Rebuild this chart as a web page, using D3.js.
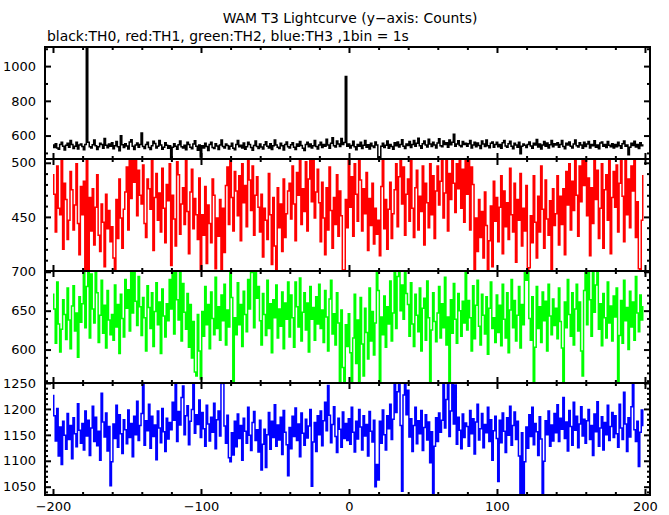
<!DOCTYPE html>
<html><head><meta charset="utf-8">
<script src="https://cdn.jsdelivr.net/npm/d3@7/dist/d3.min.js"></script>
<style>body{margin:0;background:#fff}svg{display:block}text{font-family:"DejaVu Sans",Verdana,sans-serif}</style>
</head><body><svg id="c" width="669" height="515"></svg>
<script>
// ---------------- data ----------------
const title = "WAM T3 Lightcurve (y\u2212axis: Counts)";
const subtitle = "black:TH0, red:TH1, green:TH2, blue:TH3 ,1bin = 1s";
const startTime = -200;   // s, first bin
const binSize = 1;        // s
const xTickLabels = [-200, -100, 0, 100, 200];

const th0 = [
546,531,553,528,521,549,562,538,517,544,556,533,571,548,526,539,561,523,545,552,
537,518,549,1160,562,536,529,547,574,541,520,535,556,548,527,583,544,530,551,539,
558,524,541,566,535,512,599,547,531,553,540,522,563,576,538,519,546,557,533,549,
615,537,526,548,561,531,519,542,567,554,528,539,572,546,521,533,558,544,527,541,
466,532,553,539,521,547,568,536,529,544,518,561,549,533,524,552,570,538,516,545,
476,541,529,556,537,514,548,562,531,525,553,540,519,546,575,537,528,551,543,522,
539,556,527,518,548,571,536,544,529,557,521,535,562,549,531,516,543,568,537,526,
551,534,522,547,565,539,528,553,519,541,574,546,532,525,556,542,517,549,563,536,
528,547,559,533,520,551,538,566,543,527,514,548,561,535,552,529,541,572,537,523,
545,562,531,549,538,579,546,527,556,588,541,534,569,551,537,583,548,560,940,539,
552,529,543,567,535,518,549,538,561,526,544,571,533,547,522,556,540,531,563,545,
470,472,538,556,531,544,569,527,549,537,521,558,542,563,534,548,576,539,526,551,
543,566,531,549,572,538,556,585,541,527,553,568,546,534,579,551,537,562,545,529,
557,581,542,536,568,549,559,533,574,547,561,608,539,552,570,543,535,566,548,556,
538,553,571,529,546,562,535,557,543,526,568,551,537,574,542,530,555,563,533,548,
561,536,549,527,558,571,540,532,553,567,538,524,556,545,532,561,495,539,552,544,
531,548,563,540,527,555,546,578,534,551,523,545,566,538,557,529,547,571,536,553,
546,559,532,548,571,537,524,556,545,563,538,529,552,575,541,534,558,545,527,561,
537,552,566,528,549,541,570,533,546,524,557,563,539,548,531,566,544,535,553,528,
549,535,561,542,527,553,568,538,546,490,532,556,543,567,534,548,525,559,541,546];

const th1 = [
489,471,436,497,458,452,503,420,481,466,429,447,492,475,438,461,499,444,415,478,
452,483,399,507,401,468,437,476,424,459,489,433,418,462,445,404,471,439,456,427,
441,412,398,466,430,485,449,421,457,473,496,438,504,467,506,482,510,451,493,470,
462,498,444,431,485,476,457,503,419,468,490,447,472,436,495,458,426,480,465,499,
405,470,448,423,501,489,434,462,477,443,508,455,416,473,494,439,467,452,429,486,
401,452,433,478,407,461,444,426,485,470,402,449,432,466,400,458,417,479,496,443,
505,468,437,492,474,451,488,428,499,463,479,441,508,484,456,497,433,470,487,459,
436,471,413,458,447,429,490,452,406,468,423,399,477,440,462,418,485,431,453,474,
481,448,497,462,428,491,470,507,443,476,455,501,437,485,502,464,509,449,473,494,
463,427,482,449,415,477,438,496,456,421,468,443,489,432,474,451,398,401,466,440,
506,459,487,432,499,471,446,508,484,437,476,453,491,419,467,442,481,425,458,434,
447,414,478,504,439,466,420,457,482,430,453,475,499,441,487,509,462,496,433,471,
485,446,502,458,431,477,493,438,469,455,497,424,481,463,440,499,452,488,430,474,
497,461,483,505,449,472,503,437,490,466,508,481,454,499,476,510,458,494,445,502,
471,507,438,496,480,401,449,418,466,431,455,412,473,442,397,428,460,404,483,446,
468,427,459,488,416,474,441,463,429,495,452,436,481,408,466,447,490,423,458,437,
479,398,403,451,426,488,445,412,469,436,497,457,421,484,448,433,465,399,476,442,
453,488,424,469,443,476,415,492,461,499,438,483,456,505,470,432,497,464,506,479,
508,451,486,414,477,444,509,466,493,430,458,499,421,475,489,447,503,416,468,492,
459,498,436,481,503,469,427,509,452,485,440,497,474,506,431,464,402,398,447,488];

const th2 = [
671,652,608,687,633,597,626,664,645,613,679,638,601,656,682,624,647,590,668,635,
659,702,628,681,701,615,697,652,634,703,673,609,644,689,621,657,602,676,638,619,
645,612,683,629,658,595,671,640,616,690,653,677,624,703,647,701,662,631,694,655,
618,667,641,598,682,654,627,673,604,649,686,632,661,595,678,643,616,659,637,690,
652,703,620,699,664,638,702,611,685,648,626,672,603,658,589,636,571,566,645,598,
562,649,617,681,632,658,601,674,640,619,693,627,655,612,670,637,684,606,651,629,
703,667,556,641,619,686,632,658,604,675,645,623,690,652,699,703,628,701,666,681,
637,606,672,645,618,689,627,659,596,664,641,683,615,652,630,674,601,660,639,687,
616,670,641,603,687,655,629,692,611,648,673,625,660,597,681,639,654,612,668,633,
684,627,651,609,676,642,598,665,689,620,646,606,673,634,559,651,577,556,632,604,
646,596,556,615,671,582,638,559,667,607,566,653,622,588,679,611,649,593,634,701,
676,558,642,619,669,603,655,633,688,611,647,703,627,694,701,650,683,639,701,672,
658,617,686,633,604,671,644,623,679,598,653,666,612,688,641,557,625,673,636,610,
647,681,615,659,628,693,606,642,559,664,621,685,639,608,672,650,617,662,634,699,
625,663,641,598,682,614,657,689,630,606,671,644,620,668,594,653,687,627,641,609,
670,622,657,605,684,639,615,673,596,651,690,628,663,611,644,681,602,658,632,703,
689,703,640,612,668,557,603,681,627,655,609,674,637,662,598,684,643,619,665,631,
653,614,679,636,602,558,661,628,690,645,617,673,606,652,684,624,661,598,566,676,
701,632,703,664,617,700,648,683,703,626,659,605,672,641,615,687,634,656,611,669,
642,679,557,618,663,608,689,637,654,600,675,629,661,612,694,647,623,670,638,655];

const th3 = [
1226,1187,1138,1201,1109,1165,1093,1176,1149,1122,1191,1141,1168,1104,1183,1152,1127,1210,1159,1134,
1172,1121,1196,1148,1178,1110,1163,1205,1137,1184,1129,1157,1101,1230,1175,1146,1192,1119,1166,1052,
1098,1171,1143,1207,1126,1189,1152,1114,1179,1160,1133,1198,1145,1172,1108,1186,1150,1215,1139,1168,
1191,1252,1130,1177,1158,1209,1124,1186,1147,1169,1102,1196,1163,1135,1201,1156,1118,1182,1142,1174,
1160,1213,1178,1251,1137,1195,1169,1222,1244,1150,1187,1206,1131,1176,1199,1250,1153,1189,1170,1217,
1145,1193,1162,1128,1207,1171,1138,1184,1155,1211,1123,1179,1196,1148,1249,1252,1167,1134,1188,1106,
1098,1154,1111,1176,1127,1190,1143,1168,1101,1182,1157,1134,1203,1149,1120,1174,1195,1139,1160,1117,
1178,1082,1132,1161,1087,1150,1193,1122,1176,1145,1208,1128,1169,1140,1184,1112,1197,1155,1131,1071,
1164,1123,1186,1147,1202,1139,1171,1108,1192,1153,1130,1180,1144,1167,1199,1051,1136,1174,1118,1187,
1150,1196,1129,1177,1213,1158,1245,1188,1135,1170,1204,1147,1116,1182,1161,1126,1194,1143,1172,1139,
1181,1132,1203,1155,1117,1176,1142,1199,1165,1121,1187,1148,1170,1109,1195,1157,1136,1178,1050,1093,
1063,1176,1134,1198,1150,1121,1187,1162,1209,1141,1180,1250,1193,1233,1251,1168,1041,1227,1252,1189,
1236,1146,1181,1118,1168,1203,1133,1177,1152,1197,1120,1164,1189,1140,1175,1096,1156,1034,1128,1183,
1137,1192,1155,1178,1251,1163,1218,1249,1147,1196,1250,1171,1246,1132,1184,1159,1123,1190,1145,1173,
1166,1128,1197,1152,1181,1113,1175,1209,1140,1162,1191,1125,1170,1154,1203,1137,1179,1101,1158,1186,
1143,1060,1178,1135,1192,1157,1116,1183,1149,1205,1130,1168,1194,1141,1176,1109,1034,1154,1031,1098,
1165,1124,1189,1147,1203,1131,1172,1156,1110,1185,1142,1033,1099,1177,1150,1196,1128,1169,1138,1191,
1154,1208,1137,1182,1161,1222,1143,1175,1119,1197,1166,1130,1213,1159,1186,1125,1171,1204,1148,1180,
1134,1177,1199,1141,1168,1110,1190,1156,1214,1128,1163,1185,1121,1174,1150,1207,1139,1166,1193,1145,
1187,1152,1126,1209,1163,1141,1232,1171,1118,1183,1146,1204,1250,1160,1137,1176,1089,1155,1198,1168];

// y ranges, labelled ticks and minor tick step for each panel
const th0Range = [465, 1110], th0Labels = [600, 800, 1000], th0Minor = 100;
const th1Range = [400, 503.5], th1Labels = [450, 500], th1Minor = 10;
const th2Range = [557, 701], th2Labels = [600, 650, 700], th2Minor = 10;
const th3Range = [1034, 1250], th3Labels = [1050, 1100, 1150, 1200, 1250], th3Minor = 10;
const th1Major = [400, 450, 500];

// ---------------- layout ----------------
const W = 669, H = 515;
const L = 45, R = 650;
const panelTop = [47, 159, 271, 383], panelH = 112;
const colors = ["#000000", "#ff0000", "#00ff00", "#0000ff"];

const panels = [
  {data: th0, range: th0Range, labels: th0Labels, major: th0Labels, minor: th0Minor},
  {data: th1, range: th1Range, labels: th1Labels, major: th1Major, minor: th1Minor},
  {data: th2, range: th2Range, labels: th2Labels, major: th2Labels, minor: th2Minor},
  {data: th3, range: th3Range, labels: th3Labels, major: th3Labels, minor: th3Minor}
];

const svg = d3.select("#c");
svg.append("rect").attr("width", W).attr("height", H).attr("fill", "#fff");

const x = d3.scaleLinear().domain([-205.4, 203.4]).range([L, R]);
const xMinor = d3.range(-200, 201, 20);

svg.append("text").attr("x", 350).attr("y", 23).attr("text-anchor", "middle")
  .attr("font-size", 13.9).text(title);
svg.append("text").attr("x", 47).attr("y", 41).attr("font-size", 13.9).text(subtitle);

const defs = svg.append("defs");

panels.forEach((p, i) => {
  const top = panelTop[i], bot = top + panelH;
  const y = d3.scaleLinear().domain(p.range).range([bot, top]);
  const g = svg.append("g");
  defs.append("clipPath").attr("id", "clip" + i)
    .append("rect").attr("x", L).attr("y", top).attr("width", R - L).attr("height", panelH);

  const line = d3.line()
    .x((d, k) => x(startTime + k * binSize))
    .y(d => y(d))
    .curve(d3.curveStep);
  g.append("path").datum(p.data)
    .attr("clip-path", "url(#clip" + i + ")")
    .attr("fill", "none").attr("stroke", colors[i]).attr("stroke-width", 1.5)
    .attr("d", line);

  const minorVals = d3.range(Math.ceil(p.range[0] / p.minor) * p.minor, p.range[1] + 0.01, p.minor)
    .filter(v => !p.major.includes(v));
  const majorVals = p.major.filter(v => v >= p.range[0] && v <= p.range[1]);

  // y axes (left with labels, right mirrored), ticks pointing inward
  svg.append("g").attr("transform", `translate(${L},0)`)
    .call(d3.axisLeft(y).tickValues(minorVals).tickSize(-3).tickFormat(""));
  svg.append("g").attr("transform", `translate(${L},0)`)
    .call(d3.axisLeft(y).tickValues(majorVals).tickSize(-6).tickPadding(9)
      .tickFormat(v => p.labels.includes(v) ? String(v) : ""));
  svg.append("g").attr("transform", `translate(${R},0)`)
    .call(d3.axisRight(y).tickValues(minorVals).tickSize(-3).tickFormat(""));
  svg.append("g").attr("transform", `translate(${R},0)`)
    .call(d3.axisRight(y).tickValues(majorVals).tickSize(-6).tickFormat(""));

  // x ticks on top and bottom of each panel
  const xMin = xMinor.filter(v => !xTickLabels.includes(v));
  svg.append("g").attr("transform", `translate(0,${top})`)
    .call(d3.axisTop(x).tickValues(xMin).tickSize(-3).tickFormat(""));
  svg.append("g").attr("transform", `translate(0,${top})`)
    .call(d3.axisTop(x).tickValues(xTickLabels).tickSize(-6).tickFormat(""));
  svg.append("g").attr("transform", `translate(0,${bot})`)
    .call(d3.axisBottom(x).tickValues(xMin).tickSize(-3).tickFormat(""));
  svg.append("g").attr("transform", `translate(0,${bot})`)
    .call(d3.axisBottom(x).tickValues(xTickLabels).tickSize(-6).tickPadding(7)
      .tickFormat(i === 3 ? (v => d3.format("")(v).replace("-", "\u2212")) : ""));

  svg.append("rect").attr("x", L).attr("y", top).attr("width", R - L).attr("height", panelH)
    .attr("fill", "none").attr("stroke", "#000").attr("stroke-width", 2);
});

svg.selectAll(".domain").remove();
svg.selectAll(".tick line").attr("stroke", "#000").attr("stroke-width", 2);
svg.selectAll(".tick text").attr("font-size", 13).attr("fill", "#000")
  .style("font-family", "'DejaVu Sans', Verdana, sans-serif");
</script></body></html>
